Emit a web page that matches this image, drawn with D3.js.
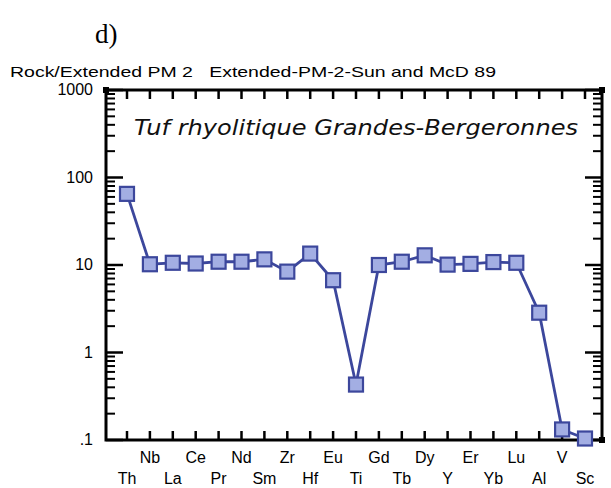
<!DOCTYPE html>
<html><head><meta charset="utf-8">
<script src="https://cdn.jsdelivr.net/npm/d3@7"></script>
<style>body{margin:0;background:#fff}svg{display:block}</style>
</head><body>
<script>
const categories = ["Th","Nb","La","Ce","Pr","Nd","Sm","Zr","Hf","Eu","Ti","Gd","Tb","Dy","Y","Er","Yb","Lu","Al","V","Sc"];
const values = [65,10.2,10.6,10.4,10.9,10.9,11.6,8.4,13.5,6.7,0.43,10,10.9,12.9,10.1,10.3,10.8,10.6,2.85,0.132,0.104];
const yTickValues = [0.1,1,10,100,1000];
const yTickLabels = [".1","1","10","100","1000"];
const headerText = "Rock/Extended PM 2   Extended-PM-2-Sun and McD 89";
const panelLabel = "d)";
const sampleName = "Tuf rhyolitique Grandes-Bergeronnes";

const W=611,H=488;
const L=106,R=602,T=90,B=440;
const svg=d3.select("body").append("svg").attr("width",W).attr("height",H);

const x=d3.scalePoint().domain(categories).range([127,585]);
const y=d3.scaleLog().domain([0.1,1000]).range([B,T]);

// minor ticks
const minor=[];
for(let e=-1;e<3;e++){for(let k=2;k<=9;k++){minor.push(k*Math.pow(10,e));}}
const g=svg.append("g");
g.selectAll(".lmin").data(minor).enter().append("line")
 .attr("x1",L).attr("x2",L+9).attr("y1",d=>y(d)).attr("y2",d=>y(d))
 .attr("stroke","#000").attr("stroke-width",2);
g.selectAll(".lmaj").data(yTickValues).enter().append("line")
 .attr("x1",L).attr("x2",L+17).attr("y1",d=>y(d)).attr("y2",d=>y(d))
 .attr("stroke","#000").attr("stroke-width",2.5);
g.selectAll(".rmin").data(minor).enter().append("line")
 .attr("x1",R).attr("x2",R-9).attr("y1",d=>y(d)).attr("y2",d=>y(d))
 .attr("stroke","#000").attr("stroke-width",2);
g.selectAll(".rmaj").data(yTickValues).enter().append("line")
 .attr("x1",R).attr("x2",R-17).attr("y1",d=>y(d)).attr("y2",d=>y(d))
 .attr("stroke","#000").attr("stroke-width",2.5);
g.selectAll(".tt").data(categories).enter().append("line")
 .attr("x1",d=>x(d)).attr("x2",d=>x(d)).attr("y1",T).attr("y2",T+9)
 .attr("stroke","#000").attr("stroke-width",2.5);
g.selectAll(".bt").data(categories).enter().append("line")
 .attr("x1",d=>x(d)).attr("x2",d=>x(d)).attr("y1",B).attr("y2",B-9)
 .attr("stroke","#000").attr("stroke-width",2.5);
g.append("rect").attr("x",L).attr("y",T).attr("width",R-L).attr("height",B-T)
 .attr("fill","none").attr("stroke","#000").attr("stroke-width",3);
[[L,T],[R,T],[R,B]].forEach(c=>g.append("rect").attr("x",c[0]-3).attr("y",c[1]-3).attr("width",6).attr("height",6).attr("fill","#000"));

svg.selectAll(".yl").data(yTickValues).enter().append("text")
 .attr("x",93).attr("y",d=>y(d)+5).attr("text-anchor","end")
 .attr("font-family","Liberation Sans, Arial, sans-serif").attr("font-size",16)
 .text((d,i)=>yTickLabels[i]);
svg.selectAll(".xl").data(categories).enter().append("text")
 .attr("x",d=>x(d)).attr("y",(d,i)=>i%2===0?484:463).attr("text-anchor","middle")
 .attr("font-family","Liberation Sans, Arial, sans-serif").attr("font-size",16)
 .text(d=>d);

svg.append("text").attr("x",10).attr("y",77).attr("font-family","Liberation Sans, Arial, sans-serif")
 .attr("font-size",15).attr("textLength",486).attr("lengthAdjust","spacingAndGlyphs")
 .style("white-space","pre").text(headerText);
svg.append("text").attr("x",95).attr("y",43).attr("font-family","Liberation Serif, Times New Roman, serif")
 .attr("font-size",27).text(panelLabel);
svg.append("text").attr("x",134).attr("y",135).attr("font-family","DejaVu Sans, sans-serif")
 .attr("font-style","italic").attr("font-size",22).attr("fill","#111")
 .attr("textLength",444).attr("lengthAdjust","spacingAndGlyphs").text(sampleName);

const data=categories.map((c,i)=>({c,v:values[i]}));
svg.append("path").datum(data)
 .attr("d",d3.line().x(d=>x(d.c)).y(d=>y(d.v)))
 .attr("fill","none").attr("stroke","#3c479c").attr("stroke-width",2.8);
svg.selectAll(".m").data(data).enter().append("rect")
 .attr("x",d=>x(d.c)-7).attr("y",d=>y(d.v)-7).attr("width",14).attr("height",14)
 .attr("fill","#a3aee3").attr("stroke","#3c479c").attr("stroke-width",2.2);
</script>
</body></html>
